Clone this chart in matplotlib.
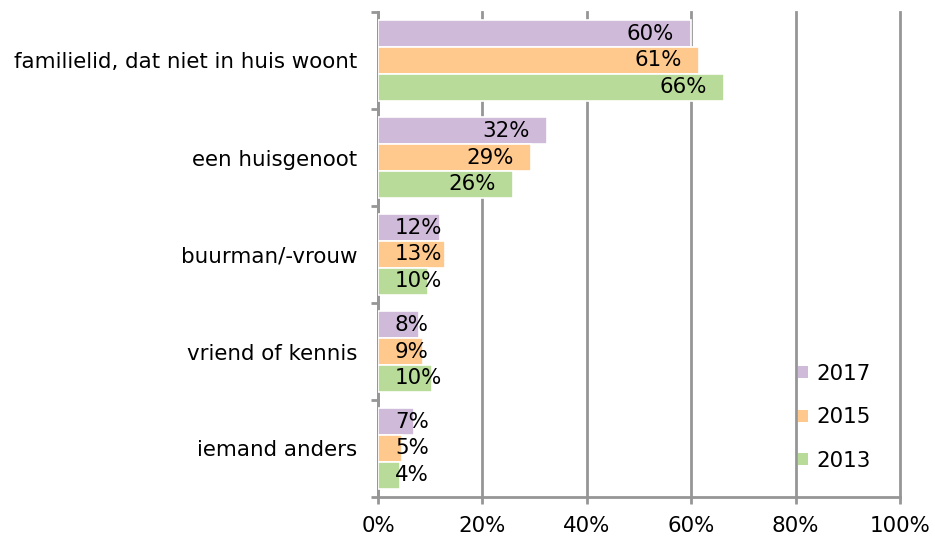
import numpy as np
import matplotlib
matplotlib.use("Agg")
import matplotlib.pyplot as plt
from matplotlib.patches import Patch

categories = ["familielid, dat niet in huis woont", "een huisgenoot",
              "buurman/-vrouw", "vriend of kennis", "iemand anders"]
years = ["2017", "2015", "2013"]
vals_2017 = [60.0, 32.3, 11.8, 7.8, 6.9]
vals_2015 = [61.4, 29.3, 12.8, 8.6, 4.6]
vals_2013 = [66.3, 25.9, 9.6, 10.3, 4.2]
colors = ["#CFBAD9", "#FFC88C", "#B9DB99"]
xticks = [0, 20, 40, 60, 80, 100]

plt.rcParams['font.family'] = ['DejaVu Sans']
plt.rcParams['font.size'] = 15.4

fig = plt.figure(figsize=(9.35, 5.41), dpi=100)
ax = fig.add_axes([378/935, 1-497/541, (900-378)/935, (497-12)/541])

series = [vals_2017, vals_2015, vals_2013]
y = np.arange(len(categories))
h = 0.276
offsets = [-h, 0, h]

for vals, col, off in zip(series, colors, offsets):
    ax.barh(y + off, vals, height=h, color=col, edgecolor="white", linewidth=1.2, zorder=3)

ax.set_xlim(0, 100)
ax.set_ylim(len(categories) - 0.5, -0.5)

ax.set_xticks(xticks)
ax.set_xticklabels([f"{t}%" for t in xticks])
ax.xaxis.grid(True, color="#969696", linewidth=2, zorder=0)
for gl in ax.get_xgridlines():
    gl.set_clip_on(False)
ax.set_yticks(y)
ax.set_yticklabels(categories)
ax.tick_params(axis='y', length=0, pad=15)
ax.set_yticks(np.arange(-0.5, len(categories)), minor=True)
ax.tick_params(axis='y', which='minor', length=5, width=2, color="#969696")
ax.tick_params(axis='x', length=5, width=2, color="#969696", pad=9)

for s in ["top", "right"]:
    ax.spines[s].set_visible(False)
for s in ["left", "bottom"]:
    ax.spines[s].set_color("#969696")
    ax.spines[s].set_linewidth(2)

# data labels: inside end, pushed right when the bar is too short
fig.canvas.draw()
renderer = fig.canvas.get_renderer()
px_per_unit = ax.transData.transform((1, 0))[0] - ax.transData.transform((0, 0))[0]
pad = 17 / px_per_unit
for vals, off in zip(series, offsets):
    for yi, v in zip(y, vals):
        t = ax.text(v - pad, yi + off, f"{v:.0f}%", ha="right", va="center", zorder=4)
        w = t.get_window_extent(renderer).width / px_per_unit
        if v - pad - w < pad:
            t.set_x(pad)
            t.set_ha("left")

handles = [Patch(facecolor=c) for c in colors]
fig.legend(handles, years, loc="upper left", bbox_to_anchor=(787/935, 1-353/541),
           frameon=False, handlelength=0.5, handleheight=0.5, handletextpad=0.35,
           labelspacing=1.1, borderpad=0)

fig.savefig("out.png", dpi=100)
